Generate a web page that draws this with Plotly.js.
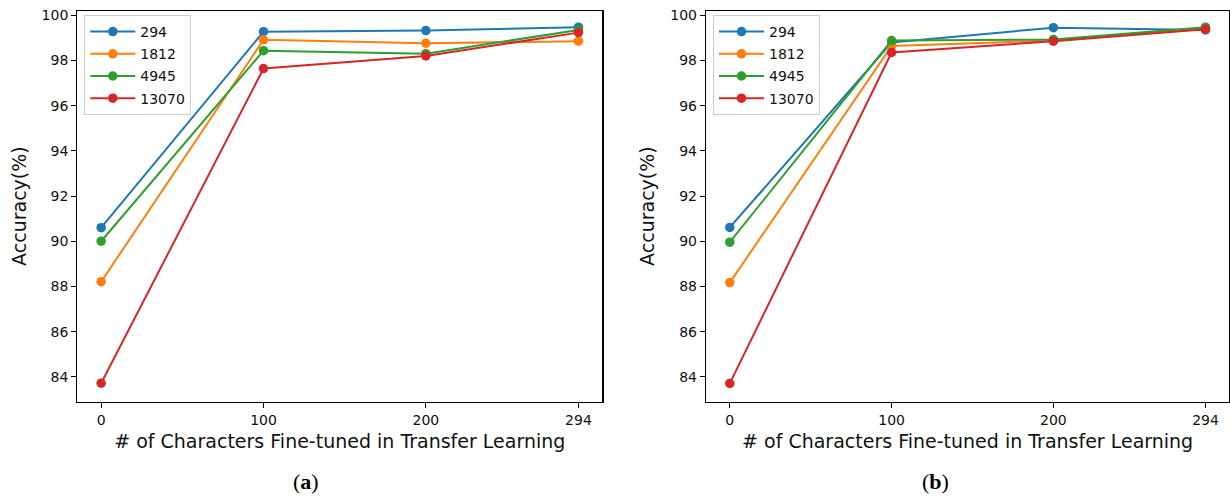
<!DOCTYPE html>
<html>
<head>
<meta charset="utf-8">
<script src="https://cdn.plot.ly/plotly-3.0.1.min.js"></script>
<style>
  html, body { margin: 0; padding: 0; background: #fff; }
  #chart { width: 1230px; height: 497px; }
</style>
</head>
<body>
<div id="chart"></div>
<script>
// ---- data ----
const xVals = [0, 100, 200, 294];
const xTickLabels = ["0", "100", "200", "294"];
const seriesNames = ["294", "1812", "4945", "13070"];
const colors = ["#1f77b4", "#ff7f0e", "#2ca02c", "#d62728"];

// panel (a)
const a294   = [90.60, 99.27, 99.32, 99.47];
const a1812  = [88.21, 98.91, 98.76, 98.85];
const a4945  = [90.00, 98.43, 98.30, 99.35];
const a13070 = [83.72, 97.64, 98.20, 99.23];

// panel (b)
const b294   = [90.61, 98.79, 99.45, 99.35];
const b1812  = [88.17, 98.64, 98.88, 99.40];
const b4945  = [89.96, 98.88, 98.93, 99.47];
const b13070 = [83.71, 98.35, 98.85, 99.38];

const panelA = [a294, a1812, a4945, a13070];
const panelB = [b294, b1812, b4945, b13070];

const W = 1230, H = 497;
const font = "DejaVu Sans";

const traces = [];
panelA.forEach((ys, i) => {
  traces.push({
    x: xVals, y: ys, name: seriesNames[i], type: "scatter", mode: "lines+markers",
    line: {color: colors[i], width: 2}, marker: {color: colors[i], size: 9.5},
    xaxis: "x", yaxis: "y", legend: "legend", legendgroup: "a" + i
  });
});
panelB.forEach((ys, i) => {
  traces.push({
    x: xVals, y: ys, name: seriesNames[i], type: "scatter", mode: "lines+markers",
    line: {color: colors[i], width: 2}, marker: {color: colors[i], size: 9.5},
    xaxis: "x2", yaxis: "y2", legend: "legend2", legendgroup: "b" + i
  });
});

const yDom = [1 - 401.5 / H, 1 - 10.7 / H];
const xTitle = "# of Characters Fine-tuned in Transfer Learning";

function xAxis(domain, anchor) {
  return {
    domain: domain, anchor: anchor, range: [-14.7, 308.7],
    tickvals: xVals, ticktext: xTickLabels, ticks: "outside", ticklen: 5, tickwidth: 1,
    tickcolor: "#000", showline: true, linecolor: "#000", linewidth: 1.2, mirror: true,
    showgrid: false, zeroline: false, automargin: false,
    tickfont: {family: font, size: 14, color: "#111"},
    title: {text: xTitle, font: {family: font, size: 19, color: "#111"}, standoff: 8}
  };
}
function yAxis(anchor) {
  return {
    domain: yDom, anchor: anchor, range: [82.91, 100.2],
    tickvals: [84, 86, 88, 90, 92, 94, 96, 98, 100], ticks: "outside", ticklen: 5, tickwidth: 1,
    tickcolor: "#000", showline: true, linecolor: "#000", linewidth: 1.2, mirror: true,
    showgrid: false, zeroline: false, automargin: false,
    tickfont: {family: font, size: 14, color: "#111"},
    title: {text: "Accuracy(%)", font: {family: font, size: 19, color: "#111"}, standoff: 10}
  };
}
function legendAt(xpx) {
  return {
    x: xpx / W, y: 1 - 15 / H, xanchor: "left", yanchor: "top",
    bgcolor: "rgba(255,255,255,0.8)", bordercolor: "#cccccc", borderwidth: 1,
    font: {family: font, size: 14, color: "#111"}, tracegroupgap: 1, itemwidth: 45
  };
}

const layout = {
  width: W, height: H,
  margin: {l: 0, r: 0, t: 0, b: 0},
  paper_bgcolor: "#fff", plot_bgcolor: "#fff",
  showlegend: true,
  xaxis: xAxis([77.3 / W, 602.3 / W], "y"),
  yaxis: yAxis("x"),
  xaxis2: xAxis([706 / W, 1229.3 / W], "y2"),
  yaxis2: yAxis("x2"),
  legend: legendAt(84.3),
  legend2: legendAt(713),
  annotations: [
    {text: "(<b>a</b>)", x: 306 / W, y: 1 - 481 / H, xref: "paper", yref: "paper",
     showarrow: false, xanchor: "center", yanchor: "middle",
     font: {family: "Liberation Serif", size: 22, color: "#000"}},
    {text: "(<b>b</b>)", x: 935 / W, y: 1 - 481 / H, xref: "paper", yref: "paper",
     showarrow: false, xanchor: "center", yanchor: "middle",
     font: {family: "Liberation Serif", size: 22, color: "#000"}}
  ]
};

Plotly.newPlot("chart", traces, layout, {displayModeBar: false, staticPlot: true});
</script>
</body>
</html>
